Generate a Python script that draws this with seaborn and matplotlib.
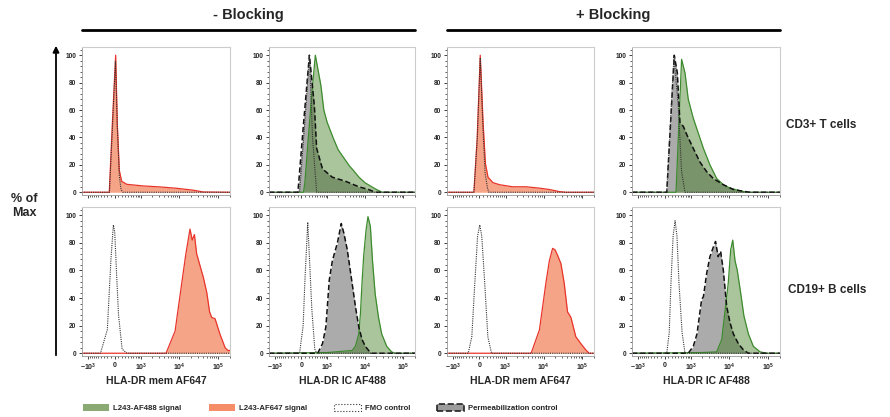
import numpy as np
import pandas as pd
import matplotlib
matplotlib.use("Agg")
import matplotlib.pyplot as plt
import seaborn as sns
from matplotlib.patches import Patch, FancyArrowPatch
from matplotlib.lines import Line2D
from matplotlib.ticker import FixedLocator, MultipleLocator

# ---- data (x = fluorescence, y = % of max) ----
# CD3+ T cells, HLA-DR mem AF647, - blocking
t_mem_nb_sig_x = [-1500, -145, -62, 25, 68, 122, 188, 345, 1160, 3190, 8650, 23000, 41500, 200000]
t_mem_nb_sig_y = [0, 0, 50, 100, 50, 16, 8, 5.8, 4.6, 3.9, 2.9, 1.5, 0.2, 0]
t_mem_nb_fmo_x = [-1500, -140, -62, 20, 68, 122, 170, 220, 200000]
t_mem_nb_fmo_y = [0, 0, 45, 96, 48, 12, 2, 0, 0]

# CD3+ T cells, HLA-DR IC AF488, - blocking
t_ic_nb_sig_x = [-1500, 60, 100, 200, 300, 420, 650, 800, 1000, 1500, 2000, 3000, 4000, 5000,
                 7000, 10000, 15000, 20000, 28000, 200000]
t_ic_nb_sig_y = [0, 0, 8, 42, 72, 100, 78, 60, 51, 39, 31, 24, 19, 16, 11, 7, 4, 2, 0, 0]
t_ic_nb_perm_x = [-1500, -90, 60, 225, 385, 470, 730, 1390, 3140, 6930, 12500, 18500, 200000]
t_ic_nb_perm_y = [0, 0, 50, 100, 63, 32, 17, 11, 8, 4, 2, 0, 0]
t_ic_nb_fmo_x = [-1500, -45, 95, 225, 325, 470, 200000]
t_ic_nb_fmo_y = [0, 0, 51, 100, 39, 0, 0]

# CD3+ T cells, HLA-DR mem AF647, + blocking
t_mem_b_sig_x = [-1500, -150, -60, 20, 95, 160, 235, 395, 670, 1560, 3540, 7830, 14100, 25500, 37600, 200000]
t_mem_b_sig_y = [0, 0, 40, 100, 51, 21, 11, 7, 5.5, 4, 4, 3, 2, 0.5, 0, 0]
t_mem_b_fmo_x = [-1500, -150, -60, 20, 95, 150, 220, 260, 200000]
t_mem_b_fmo_y = [0, 0, 38, 98, 45, 14, 3, 0, 0]

# CD3+ T cells, HLA-DR IC AF488, + blocking
t_ic_b_sig_x = [-1500, 320, 520, 670, 835, 1160, 1460, 2160, 3190, 4770, 7070, 10500, 15500, 28000, 200000]
t_ic_b_sig_y = [0, 0, 97, 87, 68, 54, 46, 32, 20, 10, 5.5, 3, 1.7, 0, 0]
t_ic_b_perm_x = [-1500, 54, 265, 363, 455, 595, 758, 1160, 1755, 2630, 3910, 7070, 12800, 23000, 34000, 200000]
t_ic_b_perm_y = [0, 0, 100, 87, 51, 48, 42, 32, 22, 15, 10, 5.5, 2, 0.7, 0, 0]
t_ic_b_fmo_x = [-1500, 54, 255, 395, 520, 670, 200000]
t_ic_b_fmo_y = [0, 0, 99, 63, 15, 0, 0]

# CD19+ B cells, HLA-DR mem AF647, - blocking
b_mem_nb_sig_x = [-1500, 4580, 7830, 11500, 14800, 18900, 21500, 24500, 28000, 41500, 50800, 60000,
                  67800, 82900, 110000, 150000, 178000, 200000]
b_mem_nb_sig_y = [0, 0, 16, 50, 72, 90, 82, 86, 72, 55, 44, 30, 26, 25, 14, 4, 2, 2]
b_mem_nb_fmo_x = [-1500, -420, -200, -100, -35, 0, 50, 100, 200, 350, 200000]
b_mem_nb_fmo_y = [0, 0, 17, 68, 93, 88, 57, 28, 3, 0, 0]

# CD19+ B cells, HLA-DR IC AF488, - blocking
b_ic_nb_sig_x = [-1500, 1000, 4630, 5660, 6930, 7660, 8410, 9260, 10680, 12000, 13850, 15750, 18470,
                 22560, 27300, 36900, 49500, 60000, 200000]
b_ic_nb_sig_y = [0, 0.5, 2, 5, 14, 29, 51, 70, 89, 99, 92, 67, 43, 26, 14, 5, 1, 0, 0]
b_ic_nb_perm_x = [-1500, 510, 730, 917, 1145, 1393, 1905, 2410, 2830, 3470, 4630, 5660, 6930, 8410,
                  10240, 12500, 15100, 200000]
b_ic_nb_perm_y = [0, 0, 7, 19, 53, 67, 80, 94, 87, 75, 51, 34, 19, 10, 5, 2, 0, 0]
b_ic_nb_fmo_x = [-1500, -45, 50, 100, 177, 300, 400, 480, 200000]
b_ic_nb_fmo_y = [0, 0, 20, 54, 95, 32, 3, 0, 0]

# CD19+ B cells, HLA-DR mem AF647, + blocking
b_mem_b_sig_x = [-1500, 4770, 7830, 11500, 14100, 17100, 19800, 23000, 28000, 34000, 41500, 50800,
                 67800, 91500, 122000, 150000, 200000]
b_mem_b_sig_y = [0, 0, 17, 51, 67, 76, 75, 71, 65, 51, 30, 26, 12, 7, 2.5, 0, 0]
b_mem_b_fmo_x = [-1500, -320, -210, -125, -50, 8, 60, 140, 230, 345, 200000]
b_mem_b_fmo_y = [0, 0, 12, 51, 85, 93, 85, 51, 12, 0, 0]

# CD19+ B cells, HLA-DR IC AF488, + blocking
b_ic_b_sig_x = [-1500, 2000, 4770, 6430, 7830, 9450, 10900, 12300, 14100, 16100, 19800, 23800, 31000,
                41500, 61600, 91500, 200000]
b_ic_b_sig_y = [0, 0.5, 1, 10, 31, 51, 75, 82, 67, 60, 43, 27, 14, 5, 1, 0, 0]
b_ic_b_perm_x = [-1500, 835, 1160, 1460, 1940, 2160, 2630, 3190, 3910, 4450, 5200, 6000, 7070, 8600,
                 10500, 12800, 17100, 23000, 31000, 200000]
b_ic_b_perm_y = [0, 0, 5, 14, 39, 41, 58, 70, 77, 81, 70, 74, 60, 34, 22, 14, 7, 2.5, 0, 0]
b_ic_b_fmo_x = [-1500, 54, 120, 168, 230, 290, 350, 420, 540, 670, 200000]
b_ic_b_fmo_y = [0, 0, 15, 51, 85, 96, 85, 51, 15, 0, 0]

x_ticks = [-1000, 0, 1000, 10000, 100000]
x_tick_labels = [r"$-10^3$", "0", r"$10^3$", r"$10^4$", r"$10^5$"]
y_ticks = [0, 20, 40, 60, 80, 100]
x_labels = ["HLA-DR mem AF647", "HLA-DR IC AF488", "HLA-DR mem AF647", "HLA-DR IC AF488"]
row_labels = ["CD3+ T cells", "CD19+ B cells"]
col_groups = ["- Blocking", "+ Blocking"]
legend_labels = ["L243-AF488 signal", "L243-AF647 signal", "FMO control", "Permeabilization control"]

# ---- style ----
sns.set_theme(style="ticks")
plt.rcParams["font.family"] = ["Liberation Sans", "DejaVu Sans"]
plt.rcParams["font.weight"] = "bold"
plt.rcParams["mathtext.fontset"] = "custom"
plt.rcParams["mathtext.rm"] = "Liberation Sans:bold"
plt.rcParams["mathtext.default"] = "rm"

RED_FILL, RED_EDGE = "#F6A487", "#E8352B"
GREEN_FILL, GREEN_EDGE = "#357312", "#3D8B2E"
GRAY_FILL = "#ABABAB"

C = 445.0


def fwd(x):
    return np.arcsinh(np.asarray(x, dtype=float) / C)


def inv(y):
    return C * np.sinh(np.asarray(y, dtype=float))


def line(ax, x, y, color, ls, lw):
    df = pd.DataFrame({"x": x, "y": y})
    sns.lineplot(data=df, x="x", y="y", ax=ax, color=color, linestyle=ls, lw=lw,
                 estimator=None, sort=False, legend=False)


def panel(ax, sig, fmo, perm=None, mem=True, bottom=False, xlabel=""):
    ax.set_xscale("function", functions=(fwd, inv))
    if perm is not None:
        ax.fill_between(perm[0], perm[1], color=GRAY_FILL, lw=0, zorder=1)
    if mem:
        ax.fill_between(sig[0], sig[1], color=RED_FILL, lw=0, zorder=2)
        line(ax, sig[0], sig[1], RED_EDGE, "-", 0.9)
    else:
        ax.fill_between(sig[0], sig[1], color=GREEN_FILL, alpha=0.42, lw=0, zorder=2)
        line(ax, sig[0], sig[1], GREEN_EDGE, "-", 0.9)
    if perm is not None:
        line(ax, perm[0], perm[1], "#111111", (0, (3.5, 1.8)), 1.1)
    line(ax, fmo[0], fmo[1], "#333333", (0, (1, 1)), 0.8)

    ax.set_xlim(-1500, 200000)
    ax.set_ylim(-2, 106)
    ax.xaxis.set_major_locator(FixedLocator(x_ticks))
    minors = ([-v for v in range(100, 1000, 100)] + list(range(100, 1000, 100))
              + list(range(2000, 10000, 1000)) + list(range(20000, 100000, 10000)) + [200000])
    ax.xaxis.set_minor_locator(FixedLocator(minors))
    ax.yaxis.set_major_locator(FixedLocator(y_ticks))
    ax.yaxis.set_minor_locator(MultipleLocator(4))
    ax.set_yticklabels([str(v) for v in y_ticks], fontsize=4.7, fontweight="bold")
    if bottom:
        ax.set_xticklabels(x_tick_labels, fontsize=5)
        ax.set_xlabel(xlabel, fontsize=7.5, fontweight="bold", labelpad=2)
    else:
        ax.set_xticklabels([])
        ax.set_xlabel("")
    ax.set_ylabel("")
    ax.tick_params(which="major", length=2.5, width=0.6, pad=1.5, color="#222222")
    ax.tick_params(which="minor", length=1.3, width=0.5, color="#222222")
    for s in ["top", "right"]:
        ax.spines[s].set_color("#cccccc")
        ax.spines[s].set_linewidth(0.8)
    for s in ["left", "bottom"]:
        ax.spines[s].set_color("#999999")
        ax.spines[s].set_linewidth(0.6)


W, H = 890, 417
fig = plt.figure(figsize=(W / 100, H / 100), dpi=100)

col_left = [82, 269, 447, 632]
col_w = [148, 146, 147, 148]
row_top = [47, 207]
row_bot = [195, 356]

panels = [
    [((t_mem_nb_sig_x, t_mem_nb_sig_y), (t_mem_nb_fmo_x, t_mem_nb_fmo_y), None, True),
     ((t_ic_nb_sig_x, t_ic_nb_sig_y), (t_ic_nb_fmo_x, t_ic_nb_fmo_y), (t_ic_nb_perm_x, t_ic_nb_perm_y), False),
     ((t_mem_b_sig_x, t_mem_b_sig_y), (t_mem_b_fmo_x, t_mem_b_fmo_y), None, True),
     ((t_ic_b_sig_x, t_ic_b_sig_y), (t_ic_b_fmo_x, t_ic_b_fmo_y), (t_ic_b_perm_x, t_ic_b_perm_y), False)],
    [((b_mem_nb_sig_x, b_mem_nb_sig_y), (b_mem_nb_fmo_x, b_mem_nb_fmo_y), None, True),
     ((b_ic_nb_sig_x, b_ic_nb_sig_y), (b_ic_nb_fmo_x, b_ic_nb_fmo_y), (b_ic_nb_perm_x, b_ic_nb_perm_y), False),
     ((b_mem_b_sig_x, b_mem_b_sig_y), (b_mem_b_fmo_x, b_mem_b_fmo_y), None, True),
     ((b_ic_b_sig_x, b_ic_b_sig_y), (b_ic_b_fmo_x, b_ic_b_fmo_y), (b_ic_b_perm_x, b_ic_b_perm_y), False)],
]

for r in range(2):
    for c in range(4):
        rect = [col_left[c] / W, 1 - row_bot[r] / H, col_w[c] / W, (row_bot[r] - row_top[r]) / H]
        ax = fig.add_axes(rect)
        sig, fmo, perm, mem = panels[r][c]
        panel(ax, sig, fmo, perm, mem, bottom=(r == 1), xlabel=x_labels[c])

# column group headers
for i, (x0, x1) in enumerate([(82, 415), (447, 780)]):
    fig.text((x0 + x1) / 2 / W, 1 - 15 / H, col_groups[i], ha="center", va="center",
             fontsize=10.5, fontweight="bold")
    fig.add_artist(Line2D([x0 / W, x1 / W], [1 - 30 / H, 1 - 30 / H], color="black", lw=2,
                          transform=fig.transFigure))

# row labels
fig.text(786 / W, 1 - 125 / H, row_labels[0], ha="left", va="center", fontsize=8.5, fontweight="bold")
fig.text(788 / W, 1 - 290 / H, row_labels[1], ha="left", va="center", fontsize=8.5, fontweight="bold")

# y label and arrow
fig.text(24 / W, 1 - 206 / H, "% of\nMax", ha="center", va="center", multialignment="center",
         fontsize=9, fontweight="bold", linespacing=1.15)
fig.add_artist(FancyArrowPatch((56 / W, 1 - 358 / H), (56 / W, 1 - 43 / H), transform=fig.transFigure,
                               arrowstyle="-|>", mutation_scale=9, lw=1.3, color="black"))

# legend
handles = [Patch(facecolor="#8BAA73", edgecolor="none"),
           Patch(facecolor="#F58D69", edgecolor="none"),
           Patch(facecolor="white", edgecolor="#333333", linestyle=":", lw=0.8),
           Patch(facecolor="#9C9C9C", edgecolor="#222222", linestyle="--", lw=1.2)]
fig.legend(handles, legend_labels, loc="center left", bbox_to_anchor=(76 / W, 1 - 408 / H), ncol=4,
           frameon=False, prop={"size": 5.6, "weight": "bold"}, handlelength=3.4, handleheight=1.0,
           handletextpad=0.5, columnspacing=3.5)

fig.savefig("out.png", dpi=100)
